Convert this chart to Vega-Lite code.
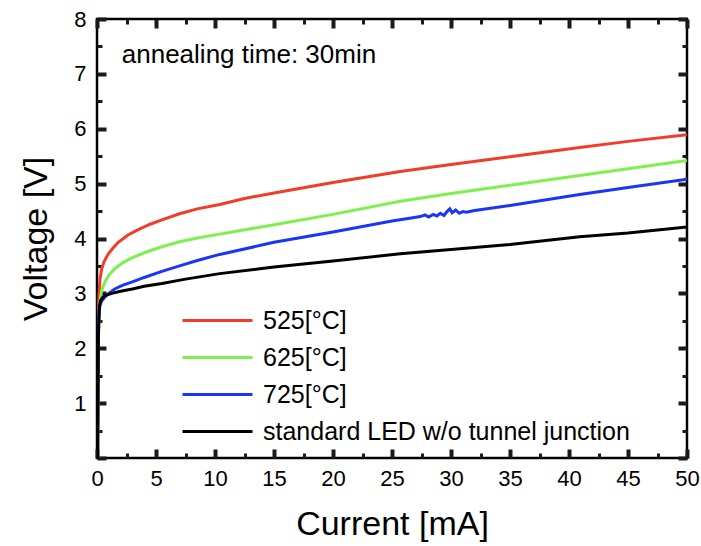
{
  "$schema": "https://vega.github.io/schema/vega-lite/v6.json",
  "width": 590,
  "height": 439,
  "autosize": "none",
  "padding": {"left": 97, "top": 19, "right": 14, "bottom": 88},
  "background": "white",
  "config": {
    "view": {"stroke": "black", "strokeWidth": 2.5},
    "font": "Liberation Sans",
    "axis": {"zindex": 1, "domain": false, "grid": false, "ticks": true, "tickColor": "#1a1a1a", "tickOpacity": 1, "tickWidth": 3, "labelColor": "black", "titleColor": "black", "labelFont": "Liberation Sans", "titleFont": "Liberation Sans", "titleFontWeight": "normal"}
  },
  "datasets": {
    "curves": [
      {"series": "525[°C]", "I": 0.06, "V": 0},
      {"series": "525[°C]", "I": 0.1, "V": 2.0},
      {"series": "525[°C]", "I": 0.15, "V": 2.9},
      {"series": "525[°C]", "I": 0.25, "V": 3.25},
      {"series": "525[°C]", "I": 0.4, "V": 3.45},
      {"series": "525[°C]", "I": 0.6, "V": 3.58},
      {"series": "525[°C]", "I": 0.9, "V": 3.7},
      {"series": "525[°C]", "I": 1.25, "V": 3.8},
      {"series": "525[°C]", "I": 1.8, "V": 3.93},
      {"series": "525[°C]", "I": 2.6, "V": 4.06},
      {"series": "525[°C]", "I": 3.5, "V": 4.16},
      {"series": "525[°C]", "I": 4.5, "V": 4.26},
      {"series": "525[°C]", "I": 5.5, "V": 4.34},
      {"series": "525[°C]", "I": 7, "V": 4.45},
      {"series": "525[°C]", "I": 8.5, "V": 4.54},
      {"series": "525[°C]", "I": 10.4, "V": 4.62},
      {"series": "525[°C]", "I": 12.5, "V": 4.73},
      {"series": "525[°C]", "I": 15, "V": 4.83},
      {"series": "525[°C]", "I": 20, "V": 5.02},
      {"series": "525[°C]", "I": 25.7, "V": 5.22},
      {"series": "525[°C]", "I": 30, "V": 5.35},
      {"series": "525[°C]", "I": 35, "V": 5.49},
      {"series": "525[°C]", "I": 40.9, "V": 5.66},
      {"series": "525[°C]", "I": 45, "V": 5.77},
      {"series": "525[°C]", "I": 50, "V": 5.89},
      {"series": "625[°C]", "I": 0.06, "V": 0},
      {"series": "625[°C]", "I": 0.12, "V": 2.2},
      {"series": "625[°C]", "I": 0.2, "V": 2.75},
      {"series": "625[°C]", "I": 0.35, "V": 3.0},
      {"series": "625[°C]", "I": 0.5, "V": 3.12},
      {"series": "625[°C]", "I": 0.7, "V": 3.22},
      {"series": "625[°C]", "I": 1.0, "V": 3.33},
      {"series": "625[°C]", "I": 1.5, "V": 3.45},
      {"series": "625[°C]", "I": 2.2, "V": 3.56},
      {"series": "625[°C]", "I": 3, "V": 3.65},
      {"series": "625[°C]", "I": 4, "V": 3.74},
      {"series": "625[°C]", "I": 5.5, "V": 3.85},
      {"series": "625[°C]", "I": 7, "V": 3.94},
      {"series": "625[°C]", "I": 8.5, "V": 4.01},
      {"series": "625[°C]", "I": 10.4, "V": 4.08},
      {"series": "625[°C]", "I": 15, "V": 4.25},
      {"series": "625[°C]", "I": 20, "V": 4.44},
      {"series": "625[°C]", "I": 25.7, "V": 4.68},
      {"series": "625[°C]", "I": 30, "V": 4.82},
      {"series": "625[°C]", "I": 35, "V": 4.97},
      {"series": "625[°C]", "I": 40.9, "V": 5.15},
      {"series": "625[°C]", "I": 45, "V": 5.27},
      {"series": "625[°C]", "I": 50, "V": 5.42},
      {"series": "725[°C]", "I": 0.03, "V": 0},
      {"series": "725[°C]", "I": 0.08, "V": 2.0},
      {"series": "725[°C]", "I": 0.15, "V": 2.6},
      {"series": "725[°C]", "I": 0.25, "V": 2.78},
      {"series": "725[°C]", "I": 0.4, "V": 2.86},
      {"series": "725[°C]", "I": 0.7, "V": 2.94},
      {"series": "725[°C]", "I": 1.0, "V": 3.0},
      {"series": "725[°C]", "I": 1.5, "V": 3.08},
      {"series": "725[°C]", "I": 2.2, "V": 3.15},
      {"series": "725[°C]", "I": 3, "V": 3.21},
      {"series": "725[°C]", "I": 4, "V": 3.29},
      {"series": "725[°C]", "I": 5.5, "V": 3.4},
      {"series": "725[°C]", "I": 7, "V": 3.5},
      {"series": "725[°C]", "I": 8.5, "V": 3.6},
      {"series": "725[°C]", "I": 10.4, "V": 3.71},
      {"series": "725[°C]", "I": 15, "V": 3.93},
      {"series": "725[°C]", "I": 20, "V": 4.12},
      {"series": "725[°C]", "I": 25, "V": 4.32},
      {"series": "725[°C]", "I": 26.5, "V": 4.37},
      {"series": "725[°C]", "I": 27.4, "V": 4.4},
      {"series": "725[°C]", "I": 27.8, "V": 4.43},
      {"series": "725[°C]", "I": 28.1, "V": 4.39},
      {"series": "725[°C]", "I": 28.5, "V": 4.44},
      {"series": "725[°C]", "I": 28.8, "V": 4.41},
      {"series": "725[°C]", "I": 29.1, "V": 4.46},
      {"series": "725[°C]", "I": 29.4, "V": 4.42},
      {"series": "725[°C]", "I": 29.7, "V": 4.5},
      {"series": "725[°C]", "I": 29.9, "V": 4.54},
      {"series": "725[°C]", "I": 30.1, "V": 4.47},
      {"series": "725[°C]", "I": 30.4, "V": 4.52},
      {"series": "725[°C]", "I": 30.7, "V": 4.46},
      {"series": "725[°C]", "I": 31.0, "V": 4.49},
      {"series": "725[°C]", "I": 31.3, "V": 4.48},
      {"series": "725[°C]", "I": 32, "V": 4.51},
      {"series": "725[°C]", "I": 35, "V": 4.6},
      {"series": "725[°C]", "I": 40.9, "V": 4.8},
      {"series": "725[°C]", "I": 45, "V": 4.93},
      {"series": "725[°C]", "I": 50, "V": 5.08},
      {"series": "standard LED w/o tunnel junction", "I": 0.06, "V": 0},
      {"series": "standard LED w/o tunnel junction", "I": 0.12, "V": 2.2},
      {"series": "standard LED w/o tunnel junction", "I": 0.2, "V": 2.75},
      {"series": "standard LED w/o tunnel junction", "I": 0.3, "V": 2.87},
      {"series": "standard LED w/o tunnel junction", "I": 0.5, "V": 2.93},
      {"series": "standard LED w/o tunnel junction", "I": 0.8, "V": 2.97},
      {"series": "standard LED w/o tunnel junction", "I": 1.25, "V": 3.0},
      {"series": "standard LED w/o tunnel junction", "I": 2, "V": 3.04},
      {"series": "standard LED w/o tunnel junction", "I": 3, "V": 3.08},
      {"series": "standard LED w/o tunnel junction", "I": 4, "V": 3.13},
      {"series": "standard LED w/o tunnel junction", "I": 5.5, "V": 3.18},
      {"series": "standard LED w/o tunnel junction", "I": 7.5, "V": 3.26},
      {"series": "standard LED w/o tunnel junction", "I": 10.4, "V": 3.36},
      {"series": "standard LED w/o tunnel junction", "I": 15, "V": 3.48},
      {"series": "standard LED w/o tunnel junction", "I": 20, "V": 3.59},
      {"series": "standard LED w/o tunnel junction", "I": 25.7, "V": 3.72},
      {"series": "standard LED w/o tunnel junction", "I": 30, "V": 3.8},
      {"series": "standard LED w/o tunnel junction", "I": 35, "V": 3.89},
      {"series": "standard LED w/o tunnel junction", "I": 40.9, "V": 4.03},
      {"series": "standard LED w/o tunnel junction", "I": 45, "V": 4.1},
      {"series": "standard LED w/o tunnel junction", "I": 50, "V": 4.21}
    ],
    "note": [{"I": 2.1, "V": 7.34, "label": "annealing time: 30min"}]
  },
  "resolve": {"axis": {"x": "independent", "y": "independent"}},
  "layer": [
    {
      "data": {"name": "curves"},
      "mark": {"type": "line", "strokeWidth": 3, "clip": true},
      "encoding": {
        "x": {
          "field": "I", "type": "quantitative",
          "scale": {"domain": [0, 50], "nice": false, "zero": false},
          "axis": {
            "orient": "bottom", "title": "Current [mA]", "titleFontSize": 34, "titlePadding": 18,
            "values": [0, 5, 10, 15, 20, 25, 30, 35, 40, 45, 50],
            "format": "d", "tickSize": -9, "tickColor": "#1a1a1a", "tickWidth": 4,
            "labelFontSize": 22, "labelPadding": 19, "labelFlush": false, "labelOverlap": false
          }
        },
        "y": {
          "field": "V", "type": "quantitative",
          "scale": {"domain": [0, 8], "nice": false, "zero": false},
          "axis": {
            "orient": "left", "title": "Voltage [V]", "titleFontSize": 34, "titlePadding": 20,
            "values": [0, 1, 2, 3, 4, 5, 6, 7, 8],
            "labelExpr": "datum.value >= 1 ? format(datum.value, 'd') : ''",
            "tickSize": -9, "tickColor": "#1a1a1a", "tickWidth": 4,
            "labelFontSize": 22, "labelPadding": 20, "labelFlush": false, "labelOverlap": false
          }
        },
        "color": {
          "field": "series", "type": "nominal",
          "scale": {
            "domain": ["525[°C]", "625[°C]", "725[°C]", "standard LED w/o tunnel junction"],
            "range": ["#f03c28", "#7cf04c", "#1a35f5", "#000000"]
          },
          "legend": {
            "title": null, "orient": "none", "legendX": 105, "legendY": 286,
            "symbolType": "M-2.5,0H2.5", "symbolSize": 784, "symbolStrokeWidth": 3,
            "labelFontSize": 25, "labelFont": "Liberation Sans", "labelColor": "black", "labelOffset": 30,
            "rowPadding": 8, "labelLimit": 500
          }
        }
      }
    },
    {
      "data": {"name": "note"},
      "mark": {"type": "text", "align": "left", "baseline": "middle", "fontSize": 26, "font": "Liberation Sans", "color": "black"},
      "encoding": {
        "x": {
          "field": "I", "type": "quantitative",
          "axis": {
            "orient": "top", "title": null, "labels": false,
            "values": [0, 5, 10, 15, 20, 25, 30, 35, 40, 45, 50],
            "tickSize": -9, "tickColor": "#1a1a1a", "tickWidth": 4
          }
        },
        "y": {
          "field": "V", "type": "quantitative",
          "axis": {
            "orient": "right", "title": null, "labels": false,
            "values": [0, 1, 2, 3, 4, 5, 6, 7, 8],
            "tickSize": -9, "tickColor": "#1a1a1a", "tickWidth": 4
          }
        },
        "text": {"field": "label"}
      }
    },
    {
      "data": {"name": "note"},
      "mark": {"type": "point", "opacity": 0},
      "encoding": {
        "x": {
          "field": "I", "type": "quantitative",
          "axis": {
            "orient": "bottom", "title": null, "labels": false,
            "values": [2.5, 7.5, 12.5, 17.5, 22.5, 27.5, 32.5, 37.5, 42.5, 47.5],
            "tickSize": -5, "tickColor": "#1a1a1a", "tickWidth": 3
          }
        },
        "y": {
          "field": "V", "type": "quantitative",
          "axis": {
            "orient": "left", "title": null, "labels": false,
            "values": [0.5, 1.5, 2.5, 3.5, 4.5, 5.5, 6.5, 7.5],
            "tickSize": -5, "tickColor": "#1a1a1a", "tickWidth": 3
          }
        }
      }
    },
    {
      "data": {"name": "note"},
      "mark": {"type": "point", "opacity": 0},
      "encoding": {
        "x": {
          "field": "I", "type": "quantitative",
          "axis": {
            "orient": "top", "title": null, "labels": false,
            "values": [2.5, 7.5, 12.5, 17.5, 22.5, 27.5, 32.5, 37.5, 42.5, 47.5],
            "tickSize": -5, "tickColor": "#1a1a1a", "tickWidth": 3
          }
        },
        "y": {
          "field": "V", "type": "quantitative",
          "axis": {
            "orient": "right", "title": null, "labels": false,
            "values": [0.5, 1.5, 2.5, 3.5, 4.5, 5.5, 6.5, 7.5],
            "tickSize": -5, "tickColor": "#1a1a1a", "tickWidth": 3
          }
        }
      }
    }
  ]
}
